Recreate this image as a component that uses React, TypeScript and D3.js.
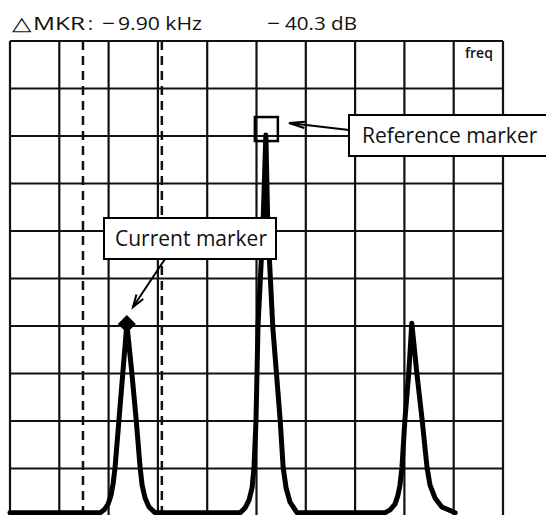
import React from 'react';
import * as d3 from 'd3';

// Trace, in grid divisions (x: 0..10 freq divs, y: 0..10 level divs)
const traceFreq = [
  0.0, 1.83, 1.91, 1.99, 2.05, 2.09, 2.13, 2.21, 2.29, 2.37, 2.47, 2.56, 2.64, 2.68, 2.74, 2.82, 2.94,
  4.67, 4.77, 4.85, 4.91, 4.95, 4.99, 5.03, 5.13, 5.19, 5.23, 5.33, 5.48, 5.54, 5.6, 5.68, 5.82,
  7.61, 7.71, 7.81, 7.87, 7.91, 7.95, 8.01, 8.09, 8.15, 8.25, 8.36, 8.46, 8.52, 8.62, 8.76, 9.03,
];
const traceLevel = [
  0.07, 0.07, 0.13, 0.25, 0.44, 0.67, 1.01, 2.02, 3.03, 4.04, 3.03, 2.02, 1.01, 0.65, 0.38, 0.19, 0.07,
  0.07, 0.17, 0.34, 0.59, 1.03, 2.02, 3.98, 6.08, 8.02, 6.08, 3.98, 2.02, 1.03, 0.59, 0.29, 0.07,
  0.07, 0.13, 0.25, 0.44, 0.65, 1.01, 2.02, 3.03, 4.06, 3.03, 2.02, 1.01, 0.65, 0.38, 0.19, 0.07,
];

// delta-marker band (dashed lines), in freq divisions
const bandLines = [1.48, 3.08];

const currentMarker = { freq: 2.37, level: 4.04 };
const referenceMarker = { freq: 5.19, level: 8.02 };

// readout line, split in pieces the way the screen spaces them
const titleParts = ['\u25B3', 'MKR', ':', '\u2212', '9.90 kHz', '\u2212', '40.3 dB'];
const titleX = [12, 33, 88, 102, 118, 267, 285];
const titleLen = [20, 52, 0, 13, 84, 13, 72];
const divisions = d3.range(0, 11);

const W = 546;
const H = 515;
const FONT = '"Open Sans", "Noto Sans", sans-serif';

function arrowHead(x1: number, y1: number, x2: number, y2: number, len = 13, spread = 0.32) {
  const a = Math.atan2(y2 - y1, x2 - x1);
  const p1 = [x2 - len * Math.cos(a - spread), y2 - len * Math.sin(a - spread)];
  const p2 = [x2 - len * Math.cos(a + spread), y2 - len * Math.sin(a + spread)];
  return `M${p1[0]},${p1[1]}L${x2},${y2}L${p2[0]},${p2[1]}`;
}

export default function App() {
  const x = d3.scaleLinear().domain([0, 10]).range([10, 503]);
  const y = d3.scaleLinear().domain([0, 10]).range([516, 41]);

  const pts: [number, number][] = traceFreq.map((f, i) => [f, traceLevel[i]]);
  const line = d3.line<[number, number]>()
    .x(d => x(d[0]))
    .y(d => y(d[1]))
    .curve(d3.curveLinear);

  const cx = x(currentMarker.freq);
  const cy = y(currentMarker.level);
  const rx = x(referenceMarker.freq);
  const ry = y(referenceMarker.level);

  return (
    <svg width={W} height={H} style={{ position: 'absolute', left: 0, top: 0, background: '#fff' }}>
      <rect width={W} height={H} fill="#fff" />
      {/* readout */}
      <g fontFamily={FONT} fontSize={18.5} fill="#111">
        {titleParts.map((t, i) => (
          <text key={i} x={titleX[i]} y={30}
            {...(titleLen[i] ? { textLength: titleLen[i], lengthAdjust: 'spacingAndGlyphs' } : {})}>{t}</text>
        ))}
      </g>

      {/* graticule */}
      <g stroke="#111" strokeWidth={2.2}>
        {divisions.map(d => (
          <line key={'v' + d} x1={x(d)} x2={x(d)} y1={y(10)} y2={y(0)} />
        ))}
        {divisions.map(d => (
          <line key={'h' + d} x1={x(0)} x2={x(10)} y1={y(d)} y2={y(d)} />
        ))}
      </g>
      <text x={465} y={58} fontFamily={FONT} fontSize={14} fontWeight={600} fill="#111">freq</text>

      {/* band lines */}
      <g stroke="#111" strokeWidth={2.5} strokeDasharray="9,6">
        {bandLines.map((b, i) => (
          <line key={i} x1={x(b)} x2={x(b)} y1={y(10)} y2={y(0)} />
        ))}
      </g>

      {/* trace */}
      <path d={line(pts) || ''} fill="none" stroke="#000" strokeWidth={5} strokeLinejoin="round" strokeLinecap="round" />

      {/* current marker */}
      <path d={`M${cx},${cy - 9}L${cx + 9},${cy}L${cx},${cy + 9}L${cx - 9},${cy}Z`} fill="#000" />
      {/* reference marker */}
      <rect x={rx - 11} y={ry - 18} width={23} height={24} fill="none" stroke="#000" strokeWidth={2.5} />

      {/* callouts */}
      <g stroke="#000" strokeWidth={2} fill="none">
        <line x1={165} y1={259} x2={133} y2={307} />
        <path d={arrowHead(165, 259, 133, 307)} />
        <line x1={349} y1={130} x2={289} y2={123} />
        <path d={arrowHead(349, 130, 289, 123, 16, 0.2)} />
      </g>
      <rect x={104} y={218} width={172} height={41} fill="#fff" stroke="#000" strokeWidth={2} />
      <text x={115} y={246} fontFamily={FONT} fontSize={21} fill="#111">Current marker</text>
      <rect x={349} y={115} width={200} height={41} fill="#fff" stroke="#000" strokeWidth={2} />
      <text x={362} y={143} fontFamily={FONT} fontSize={21} fill="#111">Reference marker</text>
    </svg>
  );
}
